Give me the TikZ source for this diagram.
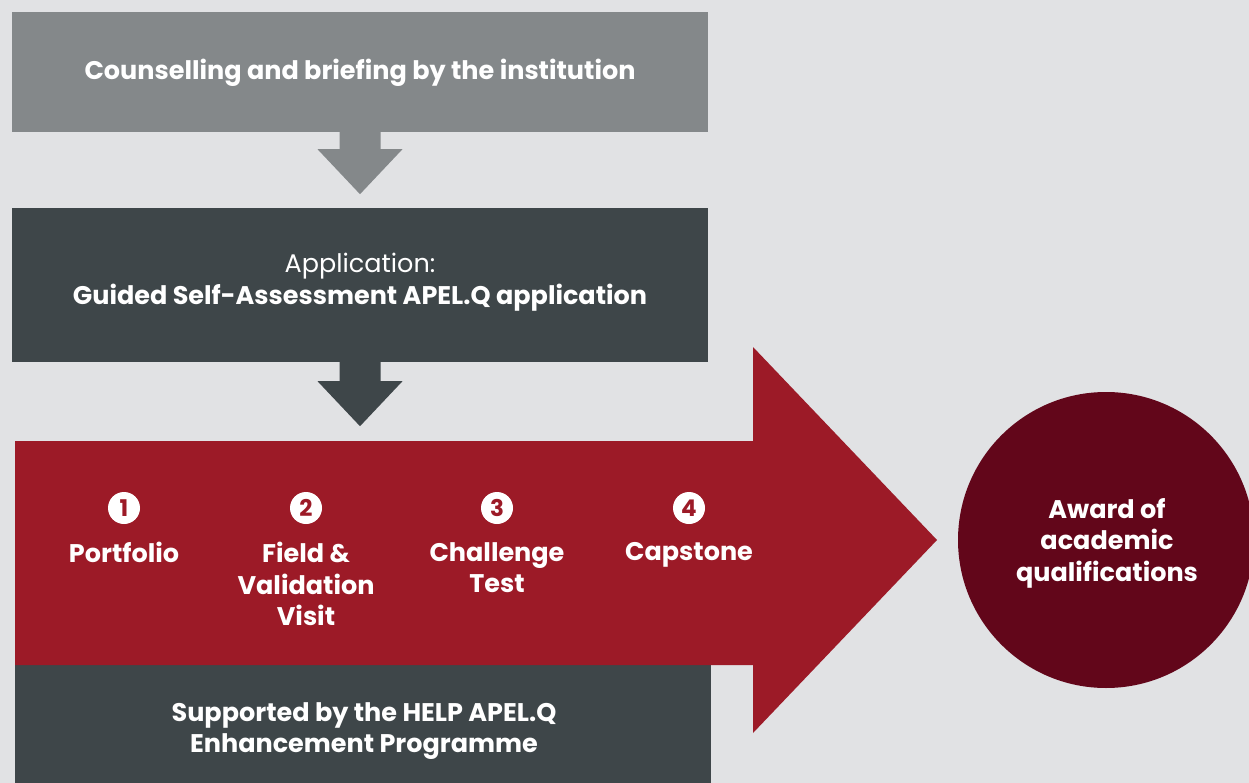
\documentclass[tikz,border=0pt]{standalone}
\usepackage{fontspec}
\setmainfont{Poppins}
\usetikzlibrary{calc}
\definecolor{bgc}{HTML}{E1E2E4}
\definecolor{topgray}{HTML}{84888A}
\definecolor{darkc}{HTML}{3E4649}
\definecolor{redc}{HTML}{9C1A27}
\definecolor{maroon}{HTML}{62061A}
\begin{document}
\begin{tikzpicture}[x=1pt,y=-1pt,
  txt/.style={text=white,font=\fontsize{25.5}{31.5}\selectfont\bfseries,align=center,inner sep=0pt},
  boxc/.style={rectangle,inner sep=0pt,minimum width=696pt},
  numc/.style={circle,fill=white,text=redc,minimum size=32pt,inner sep=0pt,font=\fontsize{23}{23}\selectfont\bfseries}]
\useasboundingbox (0,0) rectangle (1249,783);
\fill[bgc] (0,0) rectangle (1249,783);
% top box
\node[boxc,fill=topgray,minimum height=120pt] (counsel) at (360,72) {};
\node[txt] (counselt) at (360,73) {Counselling and briefing by the institution};
% application box
\node[boxc,fill=darkc,minimum height=154pt] (apply) at (360,285) {};
\node[txt] (applyt) at (360,282) {{\mdseries Application:}\\Guided Self-Assessment APEL.Q application};
% block arrows down
\fill[topgray] ($(counsel.south)+(-20.5,0)$) -- ++(0,17) -- ++(-22,0) -- ($(counsel.south)+(0,62)$) -- ++(42.5,-45) -- ++(-22,0) -- ++(0,-17) -- cycle;
\fill[darkc] ($(apply.south)+(-20.5,0)$) -- ++(0,19) -- ++(-22,0) -- ($(apply.south)+(0,64)$) -- ++(42.5,-45) -- ++(-22,0) -- ++(0,-19) -- cycle;
% bottom support box
\node[rectangle,fill=darkc,inner sep=0pt,minimum width=696pt,minimum height=124pt] (support) at (363,726) {};
\node[txt] (supportt) at (364,731) {Supported by the HELP APEL.Q\\Enhancement Programme};
% big red arrow
\coordinate (rtip) at (937,540);
\fill[redc] (15,441) -- (753,441) -- (753,347) -- (rtip) -- (753,733) -- (753,665) -- (15,665) -- cycle;
% award circle
\node[circle,fill=maroon,minimum size=296pt,inner sep=0pt] (award) at (1106,540) {};
\node[txt] (awardt) at (1107,543) {Award of\\academic\\qualifications};
% steps
\node[numc] (n1) at (124,508) {1};
\node[numc] (n2) at (306,508) {2};
\node[numc] (n3) at (497,508) {3};
\node[numc] (n4) at (689,508) {4};
\node[txt,anchor=north] (s1) at ($(n1)+(0,34)$) {Portfolio};
\node[txt,anchor=north] (s2) at ($(n2)+(0,34)$) {Field \&\\Validation\\Visit};
\node[txt,anchor=north] (s3) at ($(n3)+(0,34)$) {Challenge\\Test};
\node[txt,anchor=north] (s4) at ($(n4)+(0,34)$) {Capstone};
\end{tikzpicture}
\end{document}
